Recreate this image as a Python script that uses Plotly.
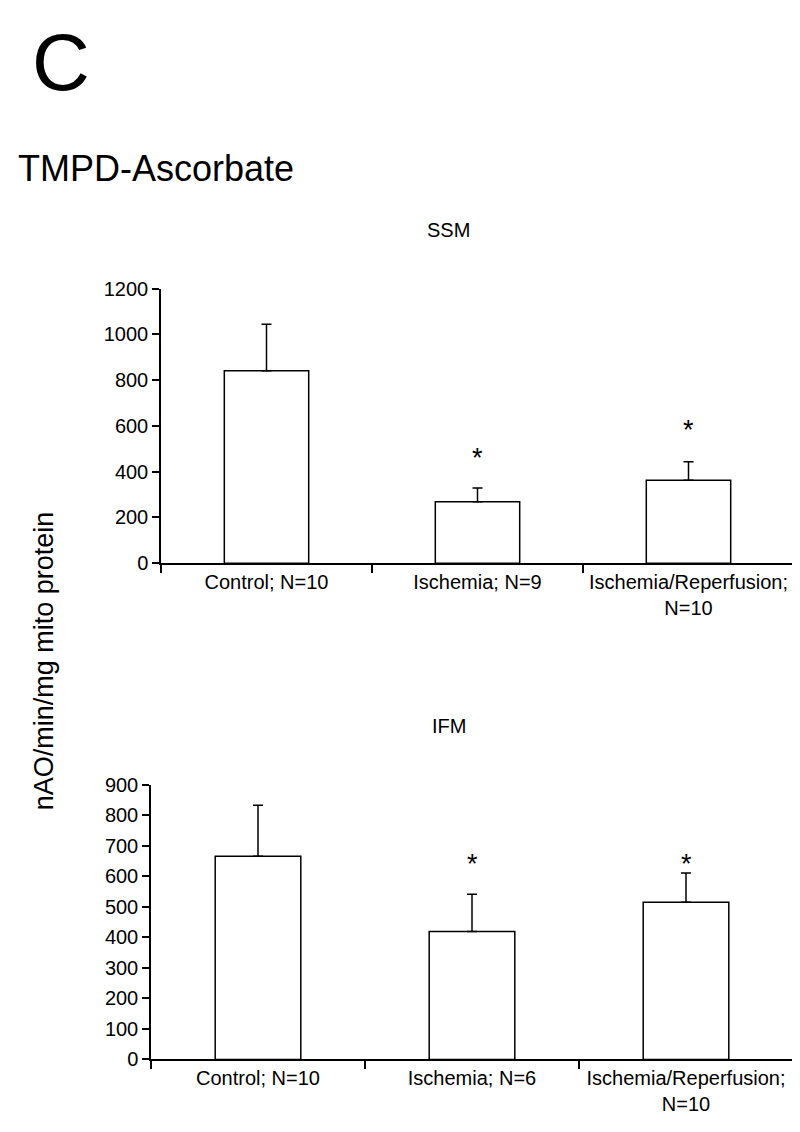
import plotly.graph_objects as go

# ---- data ----
ssm_categories = ["Control; N=10", "Ischemia; N=9", "Ischemia/Reperfusion;<br>N=10"]
ssm_mean = [841, 269, 363]
ssm_sem = [203, 60, 80]
ssm_star_y = [None, 490, 611]

ifm_categories = ["Control; N=10", "Ischemia; N=6", "Ischemia/Reperfusion;<br>N=10"]
ifm_mean = [666, 419, 515]
ifm_sem = [167, 122, 96]
ifm_star_y = [None, 662, 662]

ssm_ticks = [0, 200, 400, 600, 800, 1000, 1200]
ifm_ticks = [0, 100, 200, 300, 400, 500, 600, 700, 800, 900]

FONT = "Arial, Liberation Sans, sans-serif"
W, H = 800, 1132

fig = go.Figure()
annotations = []


def add_panel(cats, mean, sem, stars, xa, ya):
    fig.add_trace(go.Bar(
        x=cats, y=mean, width=0.4,
        marker=dict(color="white", line=dict(color="black", width=1.5)),
        error_y=dict(type="data", array=sem, arrayminus=[0] * len(sem), symmetric=False,
                     color="black", thickness=1.5, width=5),
        xaxis=xa, yaxis=ya, showlegend=False, hoverinfo="skip",
    ))
    for c, s in zip(cats, stars):
        if s is None:
            continue
        annotations.append(dict(
            text="*", x=c, y=s, xref=xa, yref=ya, showarrow=False,
            xanchor="center", yanchor="middle", yshift=-7,
            font=dict(family=FONT, size=27, color="black")))


add_panel(ssm_categories, ssm_mean, ssm_sem, ssm_star_y, "x", "y")
add_panel(ifm_categories, ifm_mean, ifm_sem, ifm_star_y, "x2", "y2")


def px_x(p):
    return p / W


def px_y(p):
    return 1 - p / H


xcommon = dict(type="category", range=[-0.5, 2.5], showline=True, linecolor="black",
               linewidth=1.5, ticks="outside", tickson="boundaries", ticklen=8,
               tickwidth=1.5, tickcolor="black", showgrid=False, zeroline=False,
               tickfont=dict(family=FONT, size=20, color="black"), fixedrange=True)
ycommon = dict(showline=True, linecolor="black", linewidth=1.5, ticks="outside",
               ticklen=7, tickwidth=1.5, tickcolor="black", showgrid=False,
               zeroline=False, tickfont=dict(family=FONT, size=20, color="black"),
               fixedrange=True)

annotations += [
    dict(text="C", x=px_x(22), y=px_y(44), xref="paper", yref="paper",
         xanchor="left", yanchor="middle", showarrow=False,
         font=dict(family=FONT, size=80, color="black")),
    dict(text="TMPD-Ascorbate", x=px_x(8), y=px_y(152), xref="paper", yref="paper",
         xanchor="left", yanchor="middle", showarrow=False,
         font=dict(family=FONT, size=36, color="black")),
    dict(text="SSM", x=px_x(440), y=px_y(215), xref="paper", yref="paper",
         xanchor="center", yanchor="middle", showarrow=False,
         font=dict(family=FONT, size=20, color="black")),
    dict(text="IFM", x=px_x(441), y=px_y(721), xref="paper", yref="paper",
         xanchor="center", yanchor="middle", showarrow=False,
         font=dict(family=FONT, size=20, color="black")),
    dict(text="nAO/min/mg mito protein", x=px_x(36), y=px_y(655), xref="paper",
         yref="paper", xanchor="center", yanchor="middle", showarrow=False,
         textangle=-90, font=dict(family=FONT, size=27, color="black")),
]

fig.update_layout(
    width=W, height=H,
    margin=dict(l=0, r=0, t=0, b=0),
    paper_bgcolor="white", plot_bgcolor="white",
    xaxis=dict(domain=[px_x(153), px_x(786)], anchor="y", **xcommon),
    yaxis=dict(domain=[px_y(555), px_y(275)], anchor="x", range=[0, 1200],
               tickvals=ssm_ticks, **ycommon),
    xaxis2=dict(domain=[px_x(143), px_x(785)], anchor="y2", **xcommon),
    yaxis2=dict(domain=[px_y(1061), px_y(781)], anchor="x2", range=[0, 900],
                tickvals=ifm_ticks, **ycommon),
    annotations=annotations,
)

fig.write_html("out.html")
